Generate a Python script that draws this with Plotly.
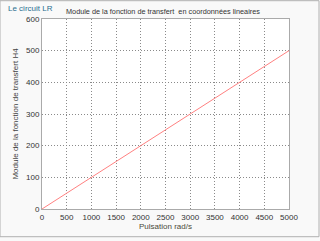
import plotly.graph_objects as go

pulsation = [0, 5000]
module_h = [0, 500]
x_ticks = [0, 500, 1000, 1500, 2000, 2500, 3000, 3500, 4000, 4500, 5000]
y_ticks = [0, 100, 200, 300, 400, 500, 600]

PW, PH = 247, 192  # plot area in px

fig = go.Figure()
fig.add_trace(go.Scatter(x=pulsation, y=module_h, mode="lines",
                         line=dict(color="#ff8080", width=1), showlegend=False))

fam = "Liberation Sans, Arial, sans-serif"
fnt = dict(family=fam, size=8, color="#333333")
fig.update_layout(
    width=320, height=241,
    margin=dict(l=42, r=31, t=19, b=30),
    paper_bgcolor="#f9f9f9", plot_bgcolor="#ffffff",
    font=fnt,
    xaxis=dict(range=[0, 5000], tickvals=x_ticks, showgrid=True,
               gridcolor="#8a8a8a", griddash="1px,2px", gridwidth=1,
               zeroline=False, showline=True, linecolor="#aaaaaa", mirror=True,
               ticks="", tickfont=fnt,
               title=dict(text="Pulsation rad/s", font=dict(family=fam, size=8, color="#4a4a3a"), standoff=2)),
    yaxis=dict(range=[0, 600], tickvals=y_ticks, showgrid=True,
               gridcolor="#8a8a8a", griddash="1px,2px", gridwidth=1,
               zeroline=False, showline=True, linecolor="#aaaaaa", mirror=True,
               ticks="", tickfont=fnt,
               title=dict(text="Module de la fonction de transfert H4", font=dict(family=fam, size=8, color="#444444"), standoff=6)),
    annotations=[
        dict(text="Le circuit LR", x=(6 - 42) / PW, y=(211 - 8) / PH, xref="paper", yref="paper",
             xanchor="left", yanchor="middle", showarrow=False,
             font=dict(family=fam, size=8, color="#2a7090")),
        dict(text="Module de la fonction de transfert  en coordonnées lineaires",
             x=(163 - 42) / PW, y=(211 - 11) / PH, xref="paper", yref="paper",
             xanchor="center", yanchor="middle", showarrow=False,
             font=dict(family=fam, size=7.3, color="#333333")),
    ],
)
fig.add_shape(type="rect", xref="x domain", yref="y domain",
              x0=-42 / PW, x1=1 + 30 / PW, y0=-28 / PH, y1=1 + 18.5 / PH,
              line=dict(color="#b0b0b0", width=1), fillcolor="rgba(0,0,0,0)", layer="below")

fig.write_html("out.html")
